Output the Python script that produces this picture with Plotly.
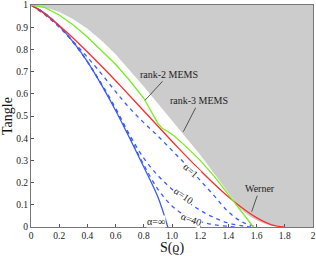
import plotly.graph_objects as go

# ---- data ----
# upper frontier (grey = forbidden region)
frontier_s = [0, 0.1, 0.2, 0.3, 0.4, 0.5, 0.6, 0.7, 0.8, 0.9, 1.0, 1.1, 1.2, 1.3, 1.4, 1.48, 1.55, 1.6, 1.65, 1.7, 1.75, 1.79]
frontier_t = [1, 0.99, 0.968, 0.936, 0.893, 0.84, 0.778, 0.708, 0.633, 0.556, 0.48, 0.405, 0.325, 0.24, 0.152, 0.085, 0.048, 0.03, 0.016, 0.007, 0.002, 0]

# MEMS (green): rank-2 then rank-3 branch
mems_s = [0, 0.1, 0.2, 0.3, 0.4, 0.5, 0.6, 0.7, 0.8, 0.9, 0.93, 0.97, 1.02, 1.1, 1.2, 1.3, 1.4, 1.48, 1.53, 1.577]
mems_t = [1, 0.988, 0.955, 0.91, 0.856, 0.795, 0.733, 0.66, 0.58, 0.467, 0.445, 0.43, 0.408, 0.362, 0.3, 0.228, 0.145, 0.082, 0.04, 0]

# Werner states (red)
werner_s = [0, 0.097, 0.242, 0.366, 0.529, 0.628, 0.848, 1.039, 1.208, 1.357, 1.489, 1.605, 1.706, 1.792]
werner_t = [1, 0.960, 0.884, 0.81, 0.706, 0.64, 0.49, 0.36, 0.25, 0.16, 0.09, 0.04, 0.01, 0]

# alpha = infinity (solid blue)
ainf_s = [0, 0.1, 0.2, 0.3, 0.4, 0.5, 0.6, 0.7, 0.8, 0.9, 0.97]
ainf_t = [1, 0.962, 0.905, 0.833, 0.745, 0.64, 0.525, 0.4, 0.27, 0.135, 0]

# alpha = 1, 10, 40 (dashed blue)
a1_s = [0, 0.1, 0.2, 0.3, 0.4, 0.5, 0.6, 0.7, 0.8, 0.9, 1.0, 1.1, 1.2, 1.3, 1.4, 1.5, 1.6]
a1_t = [1, 0.955, 0.9, 0.835, 0.765, 0.69, 0.61, 0.535, 0.47, 0.41, 0.345, 0.28, 0.21, 0.14, 0.068, 0.022, 0]
a10_s = [0, 0.1, 0.2, 0.3, 0.4, 0.5, 0.6, 0.7, 0.8, 0.9, 1.0, 1.1, 1.2, 1.3, 1.4, 1.5, 1.56]
a10_t = [1, 0.961, 0.904, 0.832, 0.745, 0.645, 0.535, 0.415, 0.31, 0.232, 0.17, 0.118, 0.075, 0.042, 0.018, 0.005, 0]
a40_s = [0, 0.1, 0.2, 0.3, 0.4, 0.5, 0.6, 0.7, 0.8, 0.9, 1.0, 1.1, 1.2, 1.3, 1.4, 1.46]
a40_t = [1, 0.961, 0.904, 0.831, 0.744, 0.641, 0.53, 0.405, 0.28, 0.17, 0.095, 0.05, 0.025, 0.01, 0.003, 0]

x_ticks = [0, 0.2, 0.4, 0.6, 0.8, 1.0, 1.2, 1.4, 1.6, 1.8, 2]
x_ticklabels = ["0", "0.2", "0.4", "0.6", "0.8", "1.0", "1.2", "1.4", "1.6", "1.8", "2"]
y_ticks = [0, 0.1, 0.2, 0.3, 0.4, 0.5, 0.6, 0.7, 0.8, 0.9, 1]
y_ticklabels = ["0", "0.1", "0.2", "0.3", "0.4", "0.5", "0.6", "0.7", "0.8", "0.9", "1"]

GREY = "#cccccc"
RED = "#ff2a2a"
GREEN = "#77ee22"
BLUE = "#3a5cff"
FONT = "Liberation Serif"

fig = go.Figure()

# grey forbidden region: frontier closed through the top-right corner
fig.add_trace(go.Scatter(
    x=frontier_s + [2, 2, 0], y=frontier_t + [0, 1, 1],
    fill="toself", fillcolor=GREY, mode="lines", line=dict(width=0),
    hoverinfo="skip", showlegend=False))

line_w = 1.3
fig.add_trace(go.Scatter(x=ainf_s, y=ainf_t, mode="lines", line=dict(color=BLUE, width=line_w, shape="spline"), showlegend=False))
for xs, ys in [(a40_s, a40_t), (a10_s, a10_t), (a1_s, a1_t)]:
    fig.add_trace(go.Scatter(x=xs, y=ys, mode="lines",
                             line=dict(color=BLUE, width=line_w, dash="4px,4px", shape="spline"),
                             showlegend=False))
fig.add_trace(go.Scatter(x=werner_s, y=werner_t, mode="lines", line=dict(color=RED, width=line_w, shape="spline"), showlegend=False))
fig.add_trace(go.Scatter(x=mems_s, y=mems_t, mode="lines", line=dict(color=GREEN, width=line_w), showlegend=False))

small = dict(family=FONT, size=10, color="#222222")
ann = [
    dict(x=0.809, y=0.571, ax=24, ay=-26, text="rank-2 MEMS"),
    dict(x=1.08, y=0.429, ax=16, ay=-31, text="rank-3 MEMS"),
    dict(x=1.565, y=0.069, ax=8, ay=-23, text="Werner"),
]
for a in ann:
    fig.add_annotation(x=a["x"], y=a["y"], ax=a["ax"], ay=a["ay"], text=a["text"],
                       showarrow=True, arrowhead=0, arrowwidth=0.8, arrowcolor="#333333",
                       font=small, bgcolor="rgba(0,0,0,0)")

labels = [
    dict(x=1.135, y=0.256, text="α=1", angle=42),
    dict(x=1.08, y=0.14, text="α=10", angle=35),
    dict(x=1.14, y=0.036, text="α=40", angle=20),
    dict(x=0.887, y=0.027, text="α=∞", angle=0),
]
for l in labels:
    fig.add_annotation(x=l["x"], y=l["y"], text=l["text"], showarrow=False,
                       textangle=l["angle"], font=small, bgcolor="white", borderpad=0)

axis_common = dict(showgrid=False, zeroline=False, showline=True, linecolor="#777777",
                   linewidth=1, mirror=True, ticks="inside", ticklen=3, tickcolor="#555555",
                   automargin=False,
                   tickfont=dict(family=FONT, size=9.5, color="#222222"))
fig.update_xaxes(range=[0, 2], tickvals=x_ticks, ticktext=x_ticklabels,
                 title=dict(text="S(ϱ)", font=dict(family=FONT, size=14, color="#111111"), standoff=0),
                 **axis_common)
fig.update_yaxes(range=[0, 1], tickvals=y_ticks, ticktext=y_ticklabels,
                 title=dict(text="Tangle", font=dict(family=FONT, size=14, color="#111111"), standoff=0),
                 **axis_common)

fig.update_layout(width=316, height=256, margin=dict(l=31, r=3, t=5, b=29),
                  paper_bgcolor="white", plot_bgcolor="white", showlegend=False)

fig.write_html("out.html", config={"displayModeBar": False},
               post_script="document.body.style.margin='0';document.body.style.padding='0';document.body.style.overflow='hidden';")
